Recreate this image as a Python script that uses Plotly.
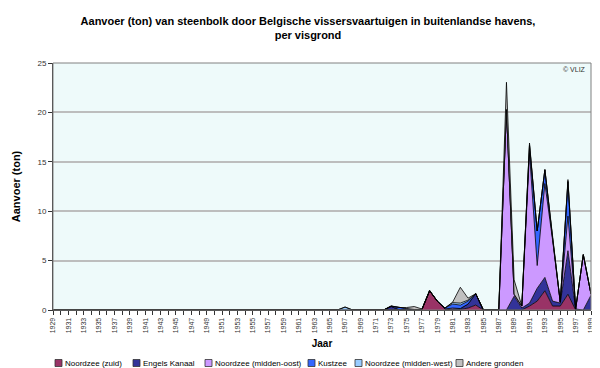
import plotly.graph_objects as go

years = list(range(1929, 2000))

# values per fishing ground (ton), 1929..1999
noordzee_zuid = [
    0, 0, 0, 0, 0, 0, 0, 0, 0, 0,            # 1929-1938
    0, 0, 0, 0, 0, 0, 0, 0, 0, 0,            # 1939-1948
    0, 0, 0, 0, 0, 0, 0, 0, 0, 0,            # 1949-1958
    0, 0, 0, 0, 0, 0, 0, 0, 0, 0,            # 1959-1968
    0, 0, 0, 0, 0, 0, 0, 0, 0.05, 1.95,      # 1969-1978
    0.9, 0.1, 0, 0.05, 0.2, 0.5, 0, 0, 0, 0, # 1979-1988
    0, 0, 0.4, 0.9, 1.95, 0.4, 0.4, 1.6, 0, 0,  # 1989-1998
    0,                                        # 1999
]
engels_kanaal = [
    0, 0, 0, 0, 0, 0, 0, 0, 0, 0,
    0, 0, 0, 0, 0, 0, 0, 0, 0, 0,
    0, 0, 0, 0.05, 0, 0, 0, 0, 0, 0,
    0, 0, 0.05, 0, 0, 0, 0, 0, 0, 0,
    0, 0, 0, 0, 0.35, 0.05, 0.05, 0, 0, 0,
    0, 0, 0.1, 0.1, 0.4, 1.15, 0, 0.05, 0, 0,
    1.4, 0.2, 0.3, 1.3, 1.35, 0.5, 0.3, 4.4, 0.1, 0,
    1.5,
]
noordzee_midden_oost = [
    0, 0, 0, 0, 0, 0, 0, 0, 0, 0,
    0, 0, 0, 0, 0, 0, 0, 0, 0, 0,
    0, 0, 0, 0, 0, 0, 0, 0, 0, 0,
    0, 0, 0, 0, 0, 0, 0, 0, 0, 0,
    0, 0, 0, 0, 0, 0, 0, 0, 0, 0,
    0, 0, 0.1, 0, 0, 0, 0, 0, 0, 20.3,
    0.2, 0.2, 15.2, 2.3, 9.5, 6.2, 0.1, 3.5, 0, 5.6,
    0.1,
]
kustzee = [
    0, 0, 0, 0, 0, 0, 0, 0, 0, 0,
    0, 0, 0, 0, 0, 0, 0, 0, 0, 0,
    0, 0, 0, 0, 0, 0, 0, 0, 0, 0,
    0, 0, 0, 0, 0, 0, 0, 0, 0, 0,
    0, 0, 0, 0, 0.05, 0.2, 0.1, 0.05, 0, 0,
    0, 0.1, 0.4, 0.35, 0.3, 0, 0, 0, 0, 0,
    0, 0, 0.8, 3.5, 1.4, 0.2, 0, 3.5, 0, 0,
    0,
]
noordzee_midden_west = [
    0, 0, 0, 0, 0, 0, 0, 0, 0, 0,
    0, 0, 0, 0, 0, 0, 0, 0, 0, 0,
    0, 0, 0, 0, 0, 0, 0, 0, 0, 0,
    0, 0, 0, 0, 0, 0, 0, 0, 0.3, 0,
    0, 0, 0, 0, 0, 0, 0, 0, 0, 0,
    0, 0, 0.15, 0.2, 0.1, 0, 0, 0, 0, 0,
    0, 0, 0, 0, 0, 0, 0, 0, 0, 0,
    0,
]
andere_gronden = [
    0, 0, 0, 0, 0, 0, 0, 0, 0, 0,
    0, 0, 0, 0, 0, 0, 0, 0, 0, 0,
    0, 0, 0, 0, 0, 0, 0, 0, 0, 0,
    0, 0, 0, 0, 0, 0, 0, 0, 0, 0,
    0, 0, 0, 0, 0, 0, 0.1, 0.3, 0.05, 0,
    0, 0, 0.05, 1.6, 0.2, 0, 0, 0, 0, 2.75,
    1.45, 0, 0.2, 0, 0, 0, 0, 0.2, 0, 0,
    0,
]

series_names = ["Noordzee (zuid)", "Engels Kanaal", "Noordzee (midden-oost)",
                "Kustzee", "Noordzee (midden-west)", "Andere gronden"]
series_values = [noordzee_zuid, engels_kanaal, noordzee_midden_oost,
                 kustzee, noordzee_midden_west, andere_gronden]
series_colors = ["#993366", "#333399", "#CC99FF", "#3366FF", "#99CCFF", "#C0C0C0"]

tick_years = list(range(1929, 2000, 2))

FONT = "Liberation Sans"

# plot area geometry (pixels) for placing the hand-built legend
W, H = 600, 368
ML, MR, MT, MB = 45, 17, 55, 66
PW = W - ML - MR
PH = H - MT - MB
legend_px = [47, 125, 197, 300, 347, 448]   # left edge of each legend swatch
legend_py = 355                             # vertical centre of legend row

def px_to_paper_x(px):
    return (px - ML) / PW

def py_to_paper_y(py):
    return (H - MB - py) / PH

fig = go.Figure()
for name, vals, col in zip(series_names, series_values, series_colors):
    fig.add_trace(go.Scatter(
        x=years, y=vals, name=name, mode="lines", stackgroup="one",
        line=dict(color="#000000", width=0.8), fillcolor=col,
    ))

shapes = [
    dict(type="rect", xref="paper", yref="paper", x0=0, x1=1, y0=0, y1=1,
         line=dict(color="#808080", width=1), fillcolor="rgba(0,0,0,0)"),
]
annotations = [
    dict(text="© VLIZ", xref="paper", yref="paper", x=0.995, y=0.995,
         xanchor="right", yanchor="top", showarrow=False,
         font=dict(family=FONT, size=7, color="#333333")),
]
for name, col, lx in zip(series_names, series_colors, legend_px):
    shapes.append(dict(
        type="rect", xref="paper", yref="paper",
        x0=px_to_paper_x(lx), x1=px_to_paper_x(lx + 7),
        y0=py_to_paper_y(legend_py + 3.5), y1=py_to_paper_y(legend_py - 3.5),
        line=dict(color="#333333", width=0.8), fillcolor=col, layer="above",
    ))
    annotations.append(dict(
        text=name, xref="paper", yref="paper",
        x=px_to_paper_x(lx + 8), y=py_to_paper_y(legend_py),
        xanchor="left", yanchor="middle", showarrow=False,
        font=dict(family=FONT, size=8, color="#000000"),
    ))

fig.update_layout(
    width=W, height=H,
    margin=dict(l=ML, r=MR, t=MT, b=MB, autoexpand=False),
    paper_bgcolor="white", plot_bgcolor="#EEFAFA",
    font=dict(family=FONT, size=9, color="#000000"),
    title=dict(
        text="<b>Aanvoer (ton) van steenbolk door Belgische vissersvaartuigen in buitenlandse havens,<br>per visgrond</b>",
        x=0.5, xanchor="center", y=0.955, yanchor="top",
        font=dict(family=FONT, size=11, color="#000000"),
    ),
    showlegend=False,
    xaxis=dict(
        range=[1929, 1999], tickmode="array", tickvals=tick_years,
        ticktext=[str(y) for y in tick_years], tickangle=-90,
        tickfont=dict(size=7, color="#333333"), ticks="outside", ticklen=4,
        tickcolor="#333333", showline=True, linecolor="#333333", linewidth=1,
        showgrid=False, zeroline=False, mirror=False,
        minor=dict(dtick=1, tick0=1929, ticks="outside", ticklen=4, tickcolor="#333333", showgrid=False),
        title=dict(text="<b>Jaar</b>", font=dict(size=10), standoff=7),
    ),
    yaxis=dict(
        range=[0, 25], dtick=5, tickfont=dict(size=8, color="#333333"),
        ticks="outside", ticklen=4, tickcolor="#333333",
        showline=True, linecolor="#333333", linewidth=1,
        showgrid=True, gridcolor="#BDBDBD", gridwidth=1.5, zeroline=False,
        title=dict(text="<b>Aanvoer (ton)</b>", font=dict(size=11), standoff=14),
    ),
    shapes=shapes,
    annotations=annotations,
)

fig.write_html("out.html")
